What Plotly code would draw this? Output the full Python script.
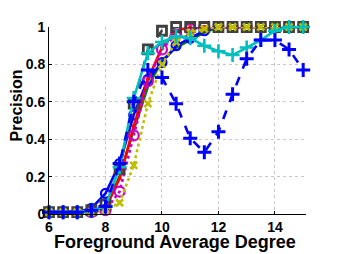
import plotly.graph_objects as go

x_vals = [6, 6.5, 7, 7.5, 8, 8.5, 9, 9.5, 10, 10.5, 11, 11.5, 12, 12.5, 13, 13.5, 14, 14.5, 15]

green_solid = [0.01, 0.01, 0.01, 0.02, 0.03, 0.2, 0.45, 0.68, 0.82, 0.89, 0.93, 0.97, 1, 1, 1, 1, 1, 1, 1]
blue_solid_o = [0.01, 0.01, 0.01, 0.03, 0.11, 0.27, 0.53, 0.72, 0.81, 0.9, 0.94, 0.98, 1, 1, 1, 1, 1, 1, 1]
red_dot = [0.01, 0.01, 0.01, 0.02, 0.03, 0.19, 0.47, 0.72, 0.89, 0.98, 1, 1, 1, 1, 1, 1, 1, 1, 1]
magenta_o = [0.01, 0.01, 0.01, 0.01, 0.02, 0.12, 0.42, 0.71, 0.88, 0.96, 0.99, 1, 1, 1, 1, 1, 1, 1, 1]
gray_square = [0.01, 0.01, 0.01, 0.02, 0.05, 0.24, 0.59, 0.88, 0.98, 1, 1, 1, 1, 1, 1, 1, 1, 1, 1]
yellow_x = [0.01, 0.01, 0.01, 0.01, 0.02, 0.06, 0.26, 0.59, 0.8, 0.92, 0.97, 0.99, 1, 1, 1, 1, 1, 1, 1]
cyan_plus = [0.01, 0.01, 0.01, 0.02, 0.04, 0.25, 0.62, 0.86, 0.92, 0.95, 0.94, 0.9, 0.87, 0.85, 0.89, 0.93, 0.98, 1, 1]
blue_dash_plus = [0.01, 0.01, 0.01, 0.02, 0.04, 0.27, 0.6, 0.77, 0.73, 0.59, 0.405, 0.33, 0.44, 0.64, 0.83, 0.93, 0.93, 0.88, 0.77]

x_ticks = [6, 8, 10, 12, 14]
y_ticks = [0, 0.2, 0.4, 0.6, 0.8, 1]
y_tick_labels = ["0", "0.2", "0.4", "0.6", "0.8", "1"]
x_title = "Foreground Average Degree"
y_title = "Precision"

fig = go.Figure()

def add(y, color, dash, symbol, msize, mlw=2.2, lw=2.6):
    fig.add_trace(go.Scatter(
        x=x_vals, y=y, mode="lines+markers" if symbol else "lines",
        line=dict(color=color, width=lw, dash=dash),
        marker=dict(symbol=symbol or "circle", size=msize, color=color,
                    line=dict(color=color, width=mlw)),
        cliponaxis=False, showlegend=False))

add(green_solid, "#008000", "solid", None, 0)
add(blue_solid_o, "#0000ff", "solid", "circle-open", 9)
add(red_dot, "#ff0000", "solid", "circle", 4, mlw=0)
add(magenta_o, "#cc00cc", "dot", "circle-open", 10)
add(gray_square, "#404040", "dash", "square-open", 9, mlw=2.8)
add(yellow_x, "#bfbf00", "dot", "x-thin-open", 7, mlw=2.6)
add(cyan_plus, "#00bfbf", "solid", "cross-thin-open", 10, mlw=2.6)
add(blue_dash_plus, "#0000ff", "dash", "cross-thin-open", 10, mlw=3)

font_family = "Liberation Sans, Arial, sans-serif"
# the page body has an 8px default margin, so the figure starts 8px in
fig.update_layout(
    width=330, height=246,
    margin=dict(l=41, r=32, t=11, b=40),
    paper_bgcolor="white", plot_bgcolor="white",
    font=dict(family=font_family, color="black"),
    xaxis=dict(
        range=[6, 15.1], tickvals=x_ticks, ticktext=[f"<b>{v}</b>" for v in x_ticks],
        tickfont=dict(size=14), showline=True, linecolor="black", linewidth=1,
        ticks="inside", ticklen=3, tickcolor="black",
        showgrid=True, gridcolor="#c8c8c8", griddash="dot", gridwidth=1,
        zeroline=False,
    ),
    yaxis=dict(
        range=[0, 1], tickvals=y_ticks, ticktext=[f"<b>{t}</b>" for t in y_tick_labels],
        tickfont=dict(size=14), showline=True, linecolor="black", linewidth=1,
        ticks="inside", ticklen=3, tickcolor="black",
        showgrid=True, gridcolor="#c8c8c8", griddash="dot", gridwidth=1,
        zeroline=False,
    ),
    annotations=[
        dict(
            text=f"<b>{y_title}</b>", xref="paper", yref="paper", x=-0.125, y=0.58,
            xanchor="center", yanchor="middle", textangle=-90, showarrow=False,
            font=dict(size=16, family=font_family, color="black"),
        ),
        dict(
            text=f"<b>{x_title}</b>", xref="paper", yref="paper", x=0.49, y=-0.148,
            xanchor="center", yanchor="middle", showarrow=False,
            font=dict(size=18, family=font_family, color="black"),
        ),
    ],
)

fig.write_html("out.html")
